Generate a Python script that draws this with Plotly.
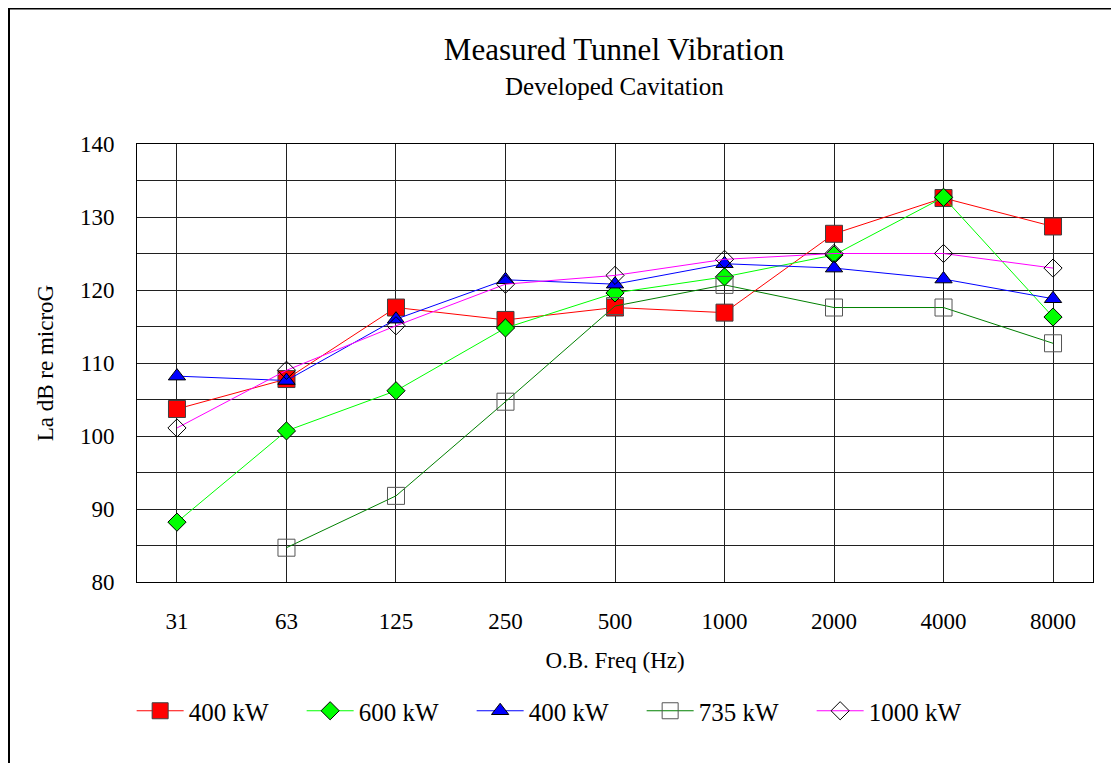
import plotly.graph_objects as go

freqs = ["31", "63", "125", "250", "500", "1000", "2000", "4000", "8000"]
p400a = [103.7, 107.8, 117.6, 115.9, 117.6, 116.9, 127.7, 132.6, 128.7]
p600 = [88.2, 100.7, 106.2, 114.8, 119.6, 121.8, 124.8, 132.7, 116.3]
p400b = [108.2, 107.6, 116.0, 121.4, 120.8, 123.6, 123.0, 121.5, 118.8]
p735 = [None, 84.7, 91.8, 104.7, 117.8, 120.7, 117.6, 117.6, 112.7]
p1000 = [101.1, 109.0, 115.1, 120.8, 122.0, 124.2, 125.0, 125.0, 123.0]
yticks = [80, 90, 100, 110, 120, 130, 140]

FONT = "Liberation Serif"

series = [
    ("400 kW", p400a, "#FF0000", dict(symbol="square", size=17, color="#FF0000", line=dict(color="#404040", width=1))),
    ("600 kW", p600, "#00FF00", dict(symbol="diamond", size=14, color="#00FF00", line=dict(color="#000000", width=1))),
    ("400 kW", p400b, "#0000FF", dict(symbol="triangle-up", size=15, color="#0000FF", line=dict(color="#000000", width=1))),
    ("735 kW", p735, "#008000", dict(symbol="square-open", size=17, color="#555555", line=dict(width=1))),
    ("1000 kW", p1000, "#FF00FF", dict(symbol="diamond-open", size=14, color="#000000", line=dict(width=1))),
]

fig = go.Figure()
for name, vals, col, mk in series:
    fig.add_trace(go.Scatter(
        x=freqs, y=vals, name=name, mode="lines+markers",
        line=dict(color=col, width=1), marker=mk, connectgaps=False,
    ))

# page has an 8px body margin; figure coordinates = page coordinates - 8
W, H = 1111, 755
L, R, T, B = 129, 1085, 136, 574
PW, PH = R - L, B - T

fig.update_layout(
    width=W, height=H,
    margin=dict(l=L, r=W - R, t=T, b=H - B, autoexpand=False),
    paper_bgcolor="white", plot_bgcolor="white",
    font=dict(family=FONT, size=23, color="black"),
    title=dict(
        text="Measured Tunnel Vibration",
        x=(606) / W, xanchor="center", y=1 - 41 / H, yanchor="middle",
        font=dict(family=FONT, size=31, color="black"),
    ),
    showlegend=True,
    legend=dict(
        orientation="h", x=-0.0056, xanchor="left", y=(B - 703) / PH, yanchor="middle",
        font=dict(family=FONT, size=25), entrywidth=108, entrywidthmode="pixels",
        itemwidth=47,
        bgcolor="rgba(0,0,0,0)",
    ),
    xaxis=dict(
        type="category", range=[-0.365, 8.365],
        showgrid=True, gridcolor="#202020", gridwidth=1,
        showline=True, linecolor="black", linewidth=1, mirror=True,
        ticks="", ticklabelstandoff=18,
        title=dict(text="O.B. Freq (Hz)", standoff=19, font=dict(family=FONT, size=23)),
        fixedrange=True,
    ),
    yaxis=dict(
        range=[80, 140], tickvals=yticks, ticktext=[str(v) for v in yticks],
        showgrid=True, gridcolor="#202020", gridwidth=1,
        minor=dict(dtick=5, showgrid=True, gridcolor="#202020", gridwidth=1, ticks=""),
        showline=True, linecolor="black", linewidth=1, mirror=True,
        ticks="", ticklabelstandoff=17,
        title=dict(text="La dB re microG", standoff=19, font=dict(family=FONT, size=23)),
        zeroline=False, fixedrange=True,
    ),
    annotations=[dict(
        text="Developed Cavitation", xref="paper", yref="paper",
        x=(606 - L) / PW, y=(B - 79) / PH, xanchor="center", yanchor="middle",
        showarrow=False, font=dict(family=FONT, size=25, color="black"),
    )],
)

# outer chart frame (visible left and top edges)
fig.add_shape(type="line", xref="paper", yref="paper",
              x0=(0 - L) / PW, x1=(W + 5 - L) / PW,
              y0=(B - 0.5) / PH, y1=(B - 0.5) / PH,
              line=dict(color="black", width=2))
fig.add_shape(type="line", xref="paper", yref="paper",
              x0=(1 - L) / PW, x1=(1 - L) / PW,
              y0=(B - 0) / PH, y1=(B - H - 5) / PH,
              line=dict(color="black", width=2))

fig.write_html("out.html")
